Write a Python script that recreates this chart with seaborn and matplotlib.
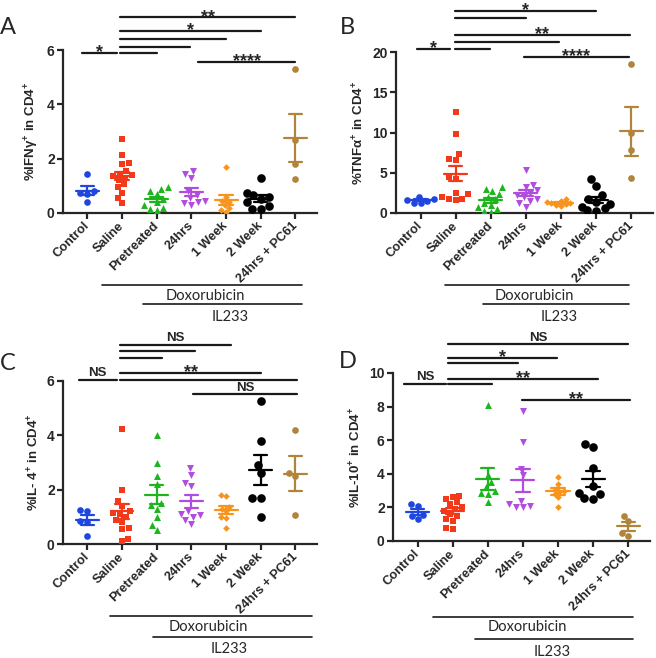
import numpy as np
import pandas as pd
import matplotlib
matplotlib.use('Agg')
import matplotlib.pyplot as plt
import matplotlib.transforms as mtrans
import seaborn as sns

# groups, colours and markers (GraphPad style)
groups = ['Control', 'Saline', 'Pretreated', '24hrs', '1 Week', '2 Week', '24hrs + PC61']
colors = ['#1f47e0', '#f23a1a', '#1db51d', '#b04de0', '#f7941d', '#000000', '#b0843a']
markers = ['o', 's', '^', 'v', 'D', 'o', 'o']
msizes = [4.8, 4.8, 5.0, 5.0, 3.4, 6.2, 4.8]

# values (% of CD4+)
ifng = [
    [1.42, 0.8, 0.75, 0.7, 0.42],
    [2.72, 2.15, 1.85, 1.8, 1.55, 1.45, 1.4, 1.35, 1.3, 1.2, 1.05, 0.95, 0.75, 0.55, 0.35],
    [0.95, 0.9, 0.8, 0.7, 0.5, 0.4, 0.3, 0.2, 0.15, 0.1],
    [1.55, 1.45, 1.3, 0.8, 0.65, 0.55, 0.45, 0.4, 0.35, 0.3],
    [1.68, 0.6, 0.45, 0.4, 0.3, 0.2, 0.1, 0.05],
    [1.3, 0.75, 0.65, 0.6, 0.5, 0.4, 0.25, 0.15, 0.15],
    [5.3, 2.7, 1.8, 1.25],
]
tnfa = [
    [2.0, 1.8, 1.6, 1.5, 1.3, 1.2],
    [12.5, 9.8, 7.3, 6.7, 6.6, 4.5, 4.2, 2.5, 2.3, 2.0, 1.8, 1.7, 1.6],
    [3.2, 3.0, 2.7, 2.4, 2.0, 1.7, 1.3, 1.0, 0.8, 0.5, 0.3, 0.1],
    [5.4, 3.5, 3.2, 2.8, 2.5, 2.2, 2.0, 1.8, 1.5, 1.2, 0.8],
    [1.7, 1.5, 1.4, 1.3, 1.2, 1.1, 1.0, 0.9],
    [4.2, 3.3, 2.2, 1.8, 1.4, 1.1, 0.8, 0.6, 0.4, 0.3],
    [18.5, 10.0, 7.8, 4.3],
]
il4 = [
    [1.25, 1.2, 0.85, 0.8, 0.3],
    [4.22, 2.0, 1.6, 1.4, 1.2, 1.15, 1.1, 1.0, 0.9, 0.8, 0.6, 0.55, 0.2, 0.1],
    [4.0, 3.0, 2.5, 2.2, 1.5, 1.45, 1.3, 1.0, 0.7, 0.5],
    [2.8, 2.55, 2.25, 2.15, 1.2, 1.1, 1.05, 1.0, 0.9, 0.75],
    [1.8, 1.75, 1.35, 1.3, 1.2, 1.0, 0.95, 0.6],
    [5.28, 3.8, 2.9, 2.6, 1.7, 1.7, 1.0],
    [4.2, 2.6, 2.5, 1.05],
]
il10 = [
    [2.2, 2.1, 1.55, 1.5, 1.3],
    [2.7, 2.6, 2.5, 2.3, 2.2, 2.0, 1.9, 1.8, 1.6, 1.5, 1.3, 1.2, 0.8, 0.7],
    [8.1, 3.9, 3.5, 3.2, 2.95, 2.85, 2.8, 2.35],
    [7.75, 5.9, 4.3, 3.9, 2.4, 2.2, 2.1, 2.05, 2.0],
    [3.8, 3.4, 3.1, 3.0, 2.9, 2.8, 2.6, 2.0],
    [5.8, 5.6, 4.35, 3.25, 2.85, 2.8, 2.55, 2.5],
    [1.5, 1.2, 0.5, 0.3],
]

# significance bars: (x start, x end, y, label)
sig_a = [(-0.15, 0.87, 5.88, '*'), (0.95, 2.0, 5.88, ''), (0.95, 2.95, 6.1, ''),
         (0.95, 4.0, 6.4, ''), (0.95, 5.0, 6.69, '*'), (0.95, 6.0, 7.2, '**'),
         (3.2, 6.0, 5.55, '****')]
sig_b = [(-0.1, 0.83, 20.4, '*'), (0.97, 1.97, 20.4, ''), (0.97, 3.94, 21.2, ''),
         (0.97, 5.97, 22.1, '**'), (0.97, 3.0, 24.2, ''), (0.97, 5.0, 25.1, '*'),
         (2.94, 5.94, 19.4, '****')]
sig_c = [(-0.25, 0.85, 6.03, 'NS'), (0.95, 6.05, 6.03, ''), (0.95, 5.0, 6.29, '**'),
         (0.95, 2.15, 6.84, ''), (0.95, 3.1, 7.1, ''), (0.95, 4.15, 7.32, 'NS'),
         (3.05, 6.05, 5.51, 'NS')]
sig_d = [(-0.4, 0.82, 9.35, 'NS'), (0.88, 2.12, 9.35, ''), (0.88, 5.13, 9.64, '**'),
         (0.88, 2.86, 10.6, ''), (0.88, 3.97, 10.9, '*'), (0.88, 5.98, 11.7, 'NS'),
         (2.97, 6.06, 8.39, '**')]

panels = [
    dict(letter='A', data=ifng, sig=sig_a, ylabel='%IFNγ$^{+}$ in CD4$^{+}$',
         yticks=[0, 2, 4, 6], pos=[63, 50, 317, 213], letter_xy=(8, 27),
         dox=(0.43, 6.2, 72), il=(1.61, 6.2, 91), dox_txt=(3.4, 83), il_txt=(4.12, 104)),
    dict(letter='B', data=tnfa, sig=sig_b, ylabel='%TNFα$^{+}$ in CD4$^{+}$',
         yticks=[0, 5, 10, 15, 20], pos=[396, 52, 653, 213], letter_xy=(347, 28),
         dox=(0.69, 5.94, 72), il=(1.77, 5.94, 91), dox_txt=(3.23, 83), il_txt=(3.94, 104)),
    dict(letter='C', data=il4, sig=sig_c, ylabel='%IL- 4$^{+}$ in CD4$^{+}$',
         yticks=[0, 2, 4, 6], pos=[63, 381, 317, 544], letter_xy=(8, 363),
         dox=(0.66, 6.48, 72), il=(1.9, 6.48, 93), dox_txt=(3.49, 83), il_txt=(4.1, 105)),
    dict(letter='D', data=il10, sig=sig_d, ylabel='%IL-10$^{+}$ in CD4$^{+}$',
         yticks=[0, 2, 4, 6, 8, 10], pos=[393, 373, 650, 541], letter_xy=(348, 361),
         dox=(0.45, 6.15, 76), il=(1.64, 6.15, 98), dox_txt=(3.12, 86), il_txt=(3.82, 111)),
]

sns.set_theme(style='ticks')
plt.rcParams['font.family'] = ['Liberation Sans', 'DejaVu Sans']
plt.rcParams['mathtext.fontset'] = 'custom'
plt.rcParams['mathtext.rm'] = 'Liberation Sans:bold'
plt.rcParams['mathtext.bf'] = 'Liberation Sans:bold'
plt.rcParams['mathtext.default'] = 'bf'

W, H = 656, 658
fig = plt.figure(figsize=(W / 100, H / 100), dpi=100)
LW = 1.6

for p in panels:
    x0, y0, x1, y1 = p['pos']
    ax = fig.add_axes([x0 / W, 1 - y1 / H, (x1 - x0) / W, (y1 - y0) / H])

    rows = []
    for g, vals in zip(groups, p['data']):
        for v in vals:
            rows.append({'group': g, 'value': v})
    df = pd.DataFrame(rows)

    for i, g in enumerate(groups):
        sub = df[df['group'] == g]
        sns.swarmplot(data=sub, x='group', y='value', order=groups, color=colors[i],
                      marker=markers[i], size=msizes[i], linewidth=0, ax=ax,
                      warn_thresh=1, zorder=3)
        vals = np.array(p['data'][i])
        m = vals.mean()
        se = vals.std(ddof=1) / np.sqrt(len(vals))
        ax.plot([i - 0.33, i + 0.33], [m, m], color=colors[i], lw=LW, zorder=4)
        ax.plot([i, i], [m - se, m + se], color=colors[i], lw=LW, zorder=4)
        for yy in (m - se, m + se):
            ax.plot([i - 0.19, i + 0.19], [yy, yy], color=colors[i], lw=LW, zorder=4)

    ax.set_xlim(-0.7, 6.62)
    ax.set_ylim(0, p['yticks'][-1])
    ax.set_yticks(p['yticks'])
    ax.set_xticks(range(len(groups)))
    ax.set_xticklabels(groups, rotation=45, ha='right', va='center',
                       rotation_mode='anchor', fontsize=9.2, fontweight='bold')
    ax.tick_params(axis='y', labelsize=10, width=LW, length=4, pad=2)
    ax.tick_params(axis='x', width=LW, length=4, pad=4)
    for t in ax.get_yticklabels():
        t.set_fontweight('bold')
    ax.set_xlabel('')
    ax.set_ylabel(p['ylabel'], fontsize=9.5, fontweight='bold', labelpad=4)
    sns.despine(ax=ax)
    for s in ('left', 'bottom'):
        ax.spines[s].set_linewidth(LW)

    # significance bars above the axes
    for sx1, sx2, sy, lab in p['sig']:
        ax.plot([sx1, sx2], [sy, sy], color='k', lw=LW, clip_on=False)
        if lab == 'NS':
            ax.annotate(lab, xy=((sx1 + sx2) / 2, sy), xytext=(0, 0.5),
                        textcoords='offset points', ha='center', va='bottom',
                        fontsize=9.5, fontweight='bold', annotation_clip=False)
        elif lab:
            ax.annotate(lab, xy=((sx1 + sx2) / 2, sy), xytext=(0, -6),
                        textcoords='offset points', ha='center', va='bottom',
                        fontsize=13, fontweight='bold', annotation_clip=False)

    # treatment group lines below the tick labels
    for (gx1, gx2, below) in (p['dox'], p['il']):
        tr = ax.get_xaxis_transform() + mtrans.ScaledTranslation(0, -below / 100, fig.dpi_scale_trans)
        ax.plot([gx1, gx2], [0, 0], color='k', lw=1.2, transform=tr, clip_on=False)
    for (tx, below), txt in ((p['dox_txt'], 'Doxorubicin'), (p['il_txt'], 'IL233')):
        tr = ax.get_xaxis_transform() + mtrans.ScaledTranslation(0, -below / 100, fig.dpi_scale_trans)
        ax.text(tx, 0, txt, transform=tr, ha='center', va='center', fontsize=10.5,
                family=['Lato', 'DejaVu Sans'])

    lx, ly = p['letter_xy']
    fig.text(lx / W, 1 - ly / H, p['letter'], ha='center', va='center', fontsize=17,
             family=['Lato', 'DejaVu Sans'])

fig.savefig('out.png', dpi=100)
